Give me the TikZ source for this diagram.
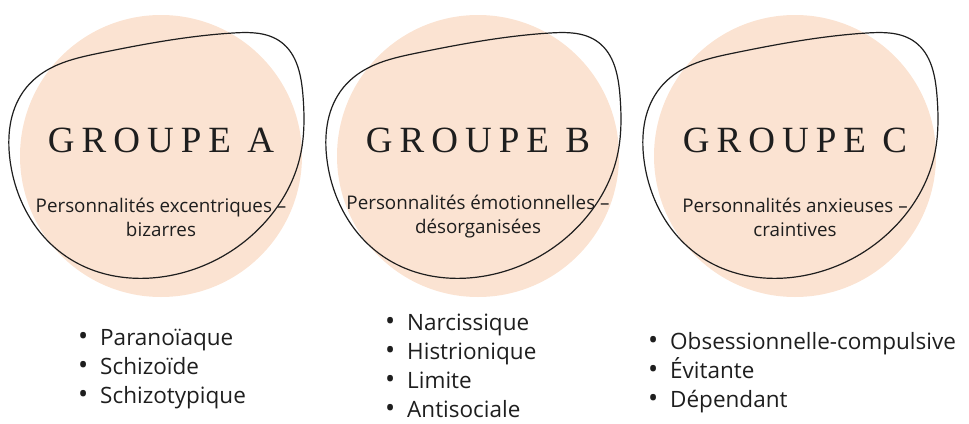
\documentclass[tikz,border=0pt]{standalone}
\usepackage{fontspec}
\setmainfont{Open Sans}
\newfontfamily\titlefont[LetterSpace=19]{Liberation Serif}
\usetikzlibrary{hobby}
\definecolor{peach}{RGB}{251,227,210}
\definecolor{inkgray}{RGB}{30,30,30}

\tikzset{
  blob/.style={fill=peach, draw=none},
  scribble/.style={draw=inkgray, line width=1.2pt},
  grouptitle/.style={anchor=base, text=inkgray, font=\titlefont\fontsize{37}{38}\selectfont},
  groupsub/.style={align=center, text=inkgray, font=\fontsize{18.8}{24}\selectfont},
  listitem/.style={anchor=base west, inner sep=0pt, text=inkgray, font=\fontsize{22.5}{24}\selectfont}
}
\newcommand{\bul}{\makebox[0pt][r]{{\fontsize{27}{24}\selectfont\textbullet}\hspace{12pt}}}

\begin{document}
\begin{tikzpicture}[x=1pt, y=-1pt]
	\useasboundingbox (0,0) rectangle (969,423);
	\coordinate (ca) at (161,156);
	\coordinate (cb) at (478,156);
	\coordinate (cc) at (795,156);

	% peach discs
	\fill[blob] (ca) circle[radius=141];
	\fill[blob] (cb) circle[radius=141];
	\fill[blob] (cc) circle[radius=141];

	% hand drawn outlines
	\foreach \c in {ca,cb,cc}{
		\begin{scope}[shift={(\c)}]
			\draw[scribble] plot[closed hobby] coordinates {(-120,-82) (-61,-103) (72,-123) (120,-114) (142,-60) (139,1) (106,64) (12,119) (-94,101) (-151,4) (-138,-64)};
		\end{scope}
	}

	\node[grouptitle] (ta) at ([yshift=4]ca) {GROUPE A};
	\node[grouptitle] (tb) at ([yshift=4]cb) {GROUPE B};
	\node[grouptitle] (tc) at ([yshift=4]cc) {GROUPE C};

	\node[groupsub] (sa) at ([yshift=-61]ca) {Personnalités excentriques –\\bizarres};
	\node[groupsub] (sb) at ([yshift=-61]cb) {Personnalités émotionnelles –\\désorganisées};
	\node[groupsub] (sc) at ([yshift=-61]cc) {Personnalités anxieuses –\\craintives};

	\node[listitem] (a1) at (100,345) {\bul Paranoïaque};
	\node[listitem] (a2) at (100,374) {\bul Schizoïde};
	\node[listitem] (a3) at (100,403) {\bul Schizotypique};

	\node[listitem] (b1) at (407,330) {\bul Narcissique};
	\node[listitem] (b2) at (407,359) {\bul Histrionique};
	\node[listitem] (b3) at (407,388) {\bul Limite};
	\node[listitem] (b4) at (407,417) {\bul Antisociale};

	\node[listitem] (c1) at (670,349) {\bul Obsessionnelle-compulsive};
	\node[listitem] (c2) at (670,378) {\bul Évitante};
	\node[listitem] (c3) at (670,407) {\bul Dépendant};
\end{tikzpicture}
\end{document}
